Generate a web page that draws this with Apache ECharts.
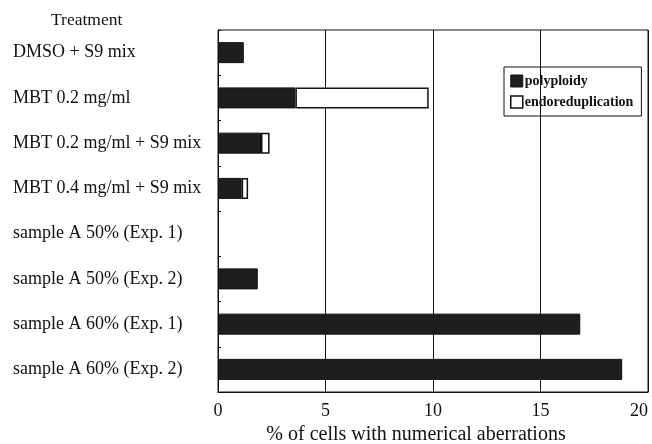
<!DOCTYPE html>
<html>
<head>
<meta charset="utf-8">
<script src="https://cdn.jsdelivr.net/npm/echarts@6/dist/echarts.min.js"></script>
<style>html,body{margin:0;padding:0;background:#fff;}#c{width:652px;height:444px;}</style>
</head>
<body>
<div id="c"></div>
<script>
const categories = [
  'DMSO + S9 mix',
  'MBT 0.2 mg/ml',
  'MBT 0.2 mg/ml + S9 mix',
  'MBT 0.4 mg/ml + S9 mix',
  'sample A 50% (Exp. 1)',
  'sample A 50% (Exp. 2)',
  'sample A 60% (Exp. 1)',
  'sample A 60% (Exp. 2)'
];
const polyploidy = [1.2, 3.6, 2.0, 1.1, 0, 1.85, 16.85, 18.8];
const endoreduplication = [0, 6.2, 0.4, 0.3, 0, 0, 0, 0];
const xTicks = [0, 5, 10, 15, 20];

const chart = echarts.init(document.getElementById('c'));
const serif = 'Liberation Serif';
chart.setOption({
  animation: false,
  backgroundColor: '#fff',
  title: {
    text: 'Treatment',
    left: 46, top: 6,
    textStyle: {fontFamily: serif, fontSize: 17.5, fontWeight: 'normal', color: '#111'}
  },
  legend: {
    orient: 'vertical',
    left: 504, top: 67,
    icon: 'rect',
    itemWidth: 12, itemHeight: 12, itemGap: 7,
    padding: [7, 8, 7, 6],
    borderColor: '#111', borderWidth: 1,
    textStyle: {fontFamily: serif, fontSize: 14, fontWeight: 'bold', color: '#111', padding: [0,0,0,-3]},
    data: [
      {name: 'polyploidy', itemStyle: {color: '#1e1e1e', borderColor: '#111', borderWidth: 1}},
      {name: 'endoreduplication', itemStyle: {color: '#fff', borderColor: '#111', borderWidth: 1.5}}
    ]
  },
  grid: {
    left: 218, right: 4, top: 30, bottom: 52,
    outerBoundsMode: 'none', containLabel: false,
    show: true, borderColor: '#111', borderWidth: 1
  },
  xAxis: {
    type: 'value', min: 0, max: 20, interval: 5,
    name: '% of cells with numerical aberrations',
    nameLocation: 'middle', nameGap: 32,
    nameTextStyle: {fontFamily: serif, fontSize: 20, color: '#111', padding: [0, 34, 0, 0]},
    axisLine: {show: true, lineStyle: {color: '#111'}},
    axisTick: {show: false},
    axisLabel: {
      fontFamily: serif, fontSize: 18, color: '#111', margin: 10,
      alignMaxLabel: 'right',
      formatter: v => xTicks.includes(v) ? String(v) : ''
    },
    splitLine: {show: true, lineStyle: {color: '#111', width: 1}}
  },
  yAxis: {
    type: 'category', data: categories, inverse: true,
    axisLine: {show: true, lineStyle: {color: '#111'}},
    axisTick: {show: true, inside: true, length: 3, lineStyle: {color: '#111'}},
    axisLabel: {fontFamily: serif, fontSize: 18, color: '#111', align: 'left', margin: 205}
  },
  series: [
    {
      name: 'polyploidy', type: 'bar', stack: 'a', barWidth: 21,
      data: polyploidy.map(v => v === 0 ? '-' : v),
      itemStyle: {color: '#1e1e1e', borderColor: '#111', borderWidth: 1}
    },
    {
      name: 'endoreduplication', type: 'bar', stack: 'a', barWidth: 21,
      data: endoreduplication.map(v => v === 0 ? '-' : v),
      itemStyle: {color: '#fff', borderColor: '#111', borderWidth: 1.5}
    }
  ]
});
</script>
</body>
</html>
